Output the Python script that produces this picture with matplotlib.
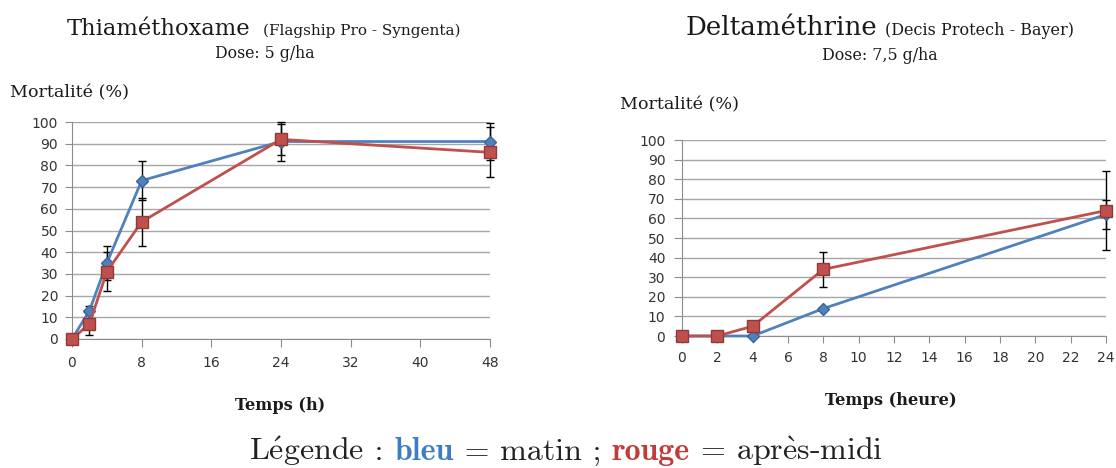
import matplotlib
matplotlib.use("Agg")
import matplotlib.pyplot as plt
import numpy as np

# Thiaméthoxame (left)
t_thia = [0, 2, 4, 8, 24, 48]
matin_thia = [0, 13, 35, 73, 91, 91]
matin_thia_err = [0, 2, 8, 9, 9, 8.5]
aprem_thia = [0, 7, 31, 54, 92, 86]
aprem_thia_err = [0, 5, 9, 11, 7, 11.5]
xticks_thia = [0, 8, 16, 24, 32, 40, 48]

# Deltaméthrine (right)
t_delta = [0, 2, 4, 8, 24]
matin_delta = [0, 0, 0, 14, 62]
matin_delta_err = [0, 0, 0, 0, 7.5]
aprem_delta = [0, 0, 5, 34, 64]
aprem_delta_err = [0, 0, 0, 9, 20]
xticks_delta = list(range(0, 25, 2))

yticks = list(range(0, 101, 10))

BLUE = '#4f81bd'
RED = '#c0504d'
W, H = 1116, 468
SERIF = 'DejaVu Serif'
plt.rcParams['mathtext.fontset'] = 'cm'

fig = plt.figure(figsize=(W / 100, H / 100), dpi=100)


def px_axes(x0, y0, x1, y1):
    # pixel box (top-left origin) -> figure axes
    return fig.add_axes([x0 / W, 1 - y1 / H, (x1 - x0) / W, (y1 - y0) / H])


def style(ax, xlim, xticks, xpad, ypad, xlen, ylen):
    ax.set_xlim(*xlim)
    ax.set_ylim(0, 100)
    ax.set_xticks(xticks)
    ax.set_yticks(yticks)
    ax.grid(axis='y', color='#a6a6a6', lw=1)
    ax.set_axisbelow(True)
    for s in ['top', 'right']:
        ax.spines[s].set_visible(False)
    for s in ['left', 'bottom']:
        ax.spines[s].set_color('#8c8c8c')
    ax.tick_params(axis='x', direction='out', length=xlen, color='#8c8c8c',
                   labelsize=10, labelcolor='#333333', pad=xpad)
    ax.tick_params(axis='y', direction='out', length=ylen, color='#8c8c8c',
                   labelsize=10, labelcolor='#333333', pad=ypad)


def series(ax, t, y, err, color, marker, ms, edge):
    t = np.array(t); y = np.array(y); err = np.array(err)
    m = err > 0
    ax.errorbar(t[m], y[m], yerr=err[m], fmt='none', ecolor='black',
                elinewidth=1, capsize=3, capthick=1, zorder=3, clip_on=False)
    ax.plot(t, y, color=color, lw=2, marker=marker, ms=ms, mfc=color,
            mec=edge, mew=1, zorder=4, clip_on=False)


ax1 = px_axes(72, 122, 490, 339)
style(ax1, (0, 48), xticks_thia, 6, 5, 6, 5)
series(ax1, t_thia, matin_thia, matin_thia_err, BLUE, 'D', 6.5, '#3a639a')
series(ax1, t_thia, aprem_thia, aprem_thia_err, RED, 's', 9, '#8e3a38')

ax2 = px_axes(682, 140, 1106, 336)
style(ax2, (0, 24), xticks_delta, 6, 6, 5, 6)
series(ax2, t_delta, matin_delta, matin_delta_err, BLUE, 'D', 6.5, '#3a639a')
series(ax2, t_delta, aprem_delta, aprem_delta_err, RED, 's', 9, '#8e3a38')


def txt(x, y, s, **kw):
    kw.setdefault('family', SERIF)
    kw.setdefault('va', 'baseline')
    kw.setdefault('color', '#1a1a1a')
    return fig.text(x / W, 1 - y / H, s, **kw)


# titles
txt(67, 35, 'Thiaméthoxame', fontsize=16.3)
txt(263, 35, '(Flagship Pro - Syngenta)', fontsize=11)
txt(265, 58, 'Dose: 5 g/ha', fontsize=11.3, ha='center')
txt(10, 97, 'Mortalité (%)', fontsize=12.6)
txt(280, 410, 'Temps (h)', fontsize=11.6, ha='center', weight='bold')

txt(686, 35, 'Deltaméthrine', fontsize=18.8)
txt(885, 35, '(Decis Protech - Bayer)', fontsize=11.5)
txt(880, 60, 'Dose: 7,5 g/ha', fontsize=11.4, ha='center')
txt(620, 109, 'Mortalité (%)', fontsize=12.6)
txt(891, 405, 'Temps (heure)', fontsize=11.7, ha='center', weight='bold')

# bottom legend line in Computer Modern, pieces laid out one after another
DARK = '#222222'
pieces = [
    (r'L$\acute{\mathrm{e}}$gende', dict(color=DARK, family='cmr10')),
    (' : ', dict(color=DARK, family='cmr10')),
    ('bleu', dict(color='#3d7cc9', family='cmb10')),
    (' = matin ; ', dict(color=DARK, family='cmr10')),
    ('rouge', dict(color='#c23b3b', family='cmb10')),
    (r' = apr$\grave{\mathrm{e}}$s-midi', dict(color=DARK, family='cmr10')),
]
fig.canvas.draw()
renderer = fig.canvas.get_renderer()
objs = []
widths = []
for s, kw in pieces:
    o = txt(0, 460, s, fontsize=23, **kw)
    widths.append(o.get_window_extent(renderer).width)
    objs.append(o)
x = 566 - sum(widths) / 2
for o, w in zip(objs, widths):
    o.set_x(x / W)
    x += w

fig.savefig('out.png', dpi=100)
